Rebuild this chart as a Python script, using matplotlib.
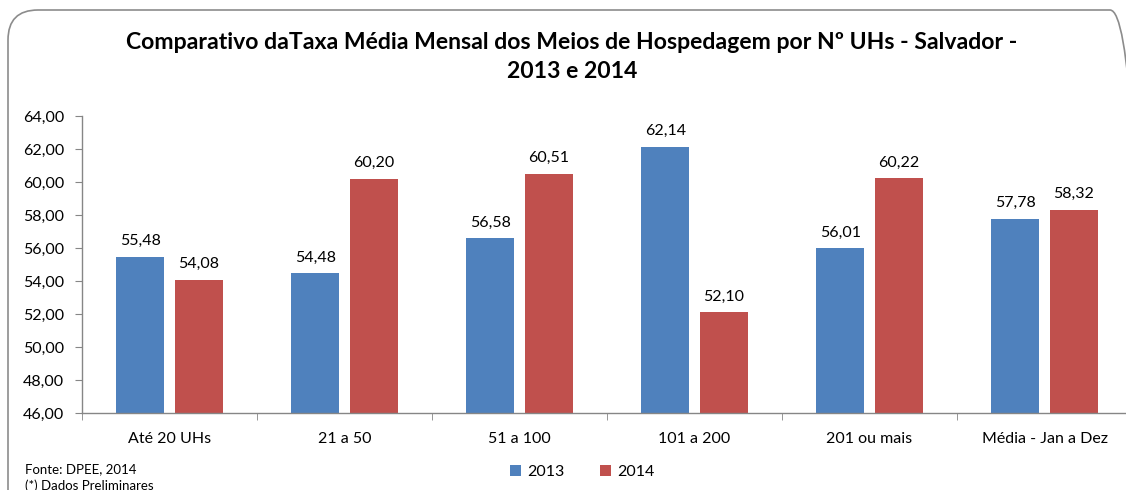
import matplotlib
matplotlib.use("Agg")
import matplotlib.pyplot as plt
from matplotlib.patches import FancyBboxPatch
from matplotlib.transforms import IdentityTransform
from matplotlib.ticker import FixedLocator

categories = ["Até 20 UHs", "21 a 50", "51 a 100", "101 a 200", "201 ou mais", "Média - Jan a Dez"]
series_names = ["2013", "2014"]
values_2013 = [55.48, 54.48, 56.58, 62.14, 56.01, 57.78]
values_2014 = [54.08, 60.20, 60.51, 52.10, 60.22, 58.32]
yticks = [46, 48, 50, 52, 54, 56, 58, 60, 62, 64]

title = "Comparativo daTaxa Média Mensal dos Meios de Hospedagem por Nº UHs - Salvador -\n2013 e 2014"
source = "Fonte: DPEE, 2014"
note = "(*) Dados Preliminares"

blue = "#4F81BD"
red = "#C0504D"
font = "Lato"

W, H = 1126, 490
fig = plt.figure(figsize=(W / 100, H / 100), dpi=100)

# rounded outer border (pixel coordinates, origin bottom-left)
border = FancyBboxPatch((8, -60), 1140 - 8, (H - 10) + 60,
                        boxstyle="round,pad=0,rounding_size=30",
                        transform=IdentityTransform(), fill=False,
                        edgecolor="#8C8C8C", linewidth=1.2)
fig.patches.append(border)

ax = fig.add_axes([82 / W, 1 - 413 / H, (1132 - 82) / W, (413 - 116) / H])
x = list(range(len(categories)))
off = 0.166
bw = 0.274
b1 = ax.bar([i - off for i in x], values_2013, bw, color=blue, label=series_names[0], zorder=2)
b2 = ax.bar([i + off for i in x], values_2014, bw, color=red, label=series_names[1], zorder=2)

for bars, vals in ((b1, values_2013), (b2, values_2014)):
    for b, v in zip(bars, vals):
        ax.annotate(f"{v:.2f}".replace(".", ","), (b.get_x() + b.get_width() / 2, v),
                    xytext=(0, 6), textcoords="offset points", ha="center", va="bottom",
                    fontsize=11.5, family=font, color="#000000")

ax.set_ylim(46, 64)
ax.set_xlim(-0.5, len(categories) - 0.5)
ax.set_yticks(yticks)
ax.set_yticklabels([f"{t:.2f}".replace(".", ",") for t in yticks], fontsize=11.5, family=font)
ax.set_xticks(x)
ax.set_xticklabels(categories, fontsize=11.5, family=font)
ax.xaxis.set_minor_locator(FixedLocator([i - 0.5 for i in range(len(categories) + 1)]))
ax.tick_params(axis="x", which="major", length=0, pad=14)
ax.tick_params(axis="x", which="minor", length=5, color="#868686", direction="out")
ax.tick_params(axis="y", length=5, color="#868686", direction="out", pad=8)
for s in ("top", "right"):
    ax.spines[s].set_visible(False)
for s in ("left", "bottom"):
    ax.spines[s].set_color("#868686")
    ax.spines[s].set_linewidth(1.0)

fig.text(572 / W, 1 - 57 / H, title, ha="center", va="center", fontsize=16.6,
         fontweight="bold", family=font, linespacing=1.45)

fig.text(25 / W, 1 - 469 / H, source, ha="left", va="center", fontsize=9.5, family=font)
fig.text(25 / W, 1 - 486 / H, note, ha="left", va="center", fontsize=9.5, family=font)

leg = fig.legend(handles=[b1, b2], labels=series_names, loc="center",
                 bbox_to_anchor=(582 / W, 1 - 472 / H), ncol=2, frameon=False,
                 prop={"family": font, "size": 11.5}, handlelength=0.7, handleheight=0.7,
                 columnspacing=2.2, handletextpad=0.4)

fig.savefig("out.png", dpi=100)
